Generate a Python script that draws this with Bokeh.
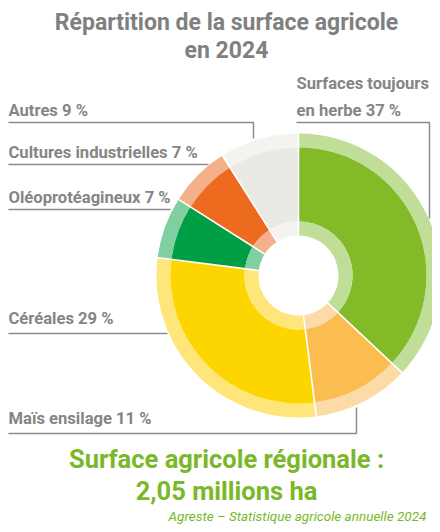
import math
from bokeh.plotting import figure
from bokeh.models import Range1d, ColumnDataSource
from bokeh.core.properties import value
from bokeh.embed import file_html
from bokeh.resources import INLINE

# ---- data ----
categories = ["Surfaces toujours\nen herbe", "Maïs ensilage", "Céréales",
              "Oléoprotéagineux", "Cultures industrielles", "Autres"]
shares = [37, 11, 29, 7, 7, 9]
main_colors = ["#82BA28", "#FBBC50", "#FDD500", "#009E45", "#EC6B1E", "#EAE9E4"]
light_colors = ["#C1DE98", "#FCDBA6", "#FEE67A", "#7FCFA0", "#F4B08A", "#F4F3EF"]
title_lines = ["Répartition de la surface agricole", "en 2024"]
footer_lines = ["Surface agricole régionale :", "2,05 millions ha"]
source_text = "Agreste – Statistique agricole annuelle 2024"

# ---- layout helpers (picture coords -> data coords) ----
W, H = 432, 524
def Y(py):
    return H - py

p = figure(width=W, height=H, x_range=Range1d(0, W), y_range=Range1d(0, H),
           output_backend="svg", toolbar_location=None, min_border=0)
p.axis.visible = False
p.grid.visible = False
p.outline_line_color = None
p.background_fill_color = "white"

cx, cy = 298, Y(275)
r_hole, r_in, r_main, r_out = 40, 54, 128, 142

total = float(sum(shares))
starts, ends = [], []
acc = 0.0
for s in shares:
    starts.append(math.pi / 2 - acc / total * 2 * math.pi)
    acc += s
    ends.append(math.pi / 2 - acc / total * 2 * math.pi)

src = ColumnDataSource(dict(start=starts, end=ends, main=main_colors, light=light_colors))
p.annular_wedge(x=cx, y=cy, inner_radius=r_main, outer_radius=r_out, start_angle="start",
                end_angle="end", direction="clock", fill_color="light", line_color=None, source=src)
p.annular_wedge(x=cx, y=cy, inner_radius=r_in, outer_radius=r_main, start_angle="start",
                end_angle="end", direction="clock", fill_color="main", line_color=None, source=src)
p.annular_wedge(x=cx, y=cy, inner_radius=r_hole, outer_radius=r_in, start_angle="start",
                end_angle="end", direction="clock", fill_color="light", line_color=None, source=src)

# white separators
sx0 = [cx + r_hole * math.cos(a) for a in starts]
sy0 = [cy + r_hole * math.sin(a) for a in starts]
sx1 = [cx + (r_out + 1) * math.cos(a) for a in starts]
sy1 = [cy + (r_out + 1) * math.sin(a) for a in starts]
p.segment(x0=sx0, y0=sy0, x1=sx1, y1=sy1, line_color="white", line_width=1.6)

# ---- labels ----
gray = "#858585"
labels = [f"{c} {v} %" for c, v in zip(categories, shares)]
lab_x = [296, 8, 8, 8, 8, 8]
lab_y = [Y(96.5), Y(418), Y(318), Y(197), Y(152), Y(110)]
p.text(x=lab_x, y=lab_y, text=labels, text_font=value("Roboto"), text_font_style="bold",
       text_font_size="16.6px", text_color=gray, text_align="left", text_baseline="middle",
       text_line_height=1.45)

# leader lines (polylines)
leaders_x = [[296, 429, 429], [8, 356, 356], [8, 167], [8, 170], [8, 208], [8, 253, 253]]
leaders_y = [[Y(122), Y(122), Y(218)], [Y(433), Y(433), Y(407)], [Y(333), Y(333)],
             [Y(209), Y(209)], [Y(164), Y(164)], [Y(122), Y(122), Y(138)]]
p.multi_line(xs=leaders_x, ys=leaders_y, line_color="#8C8C8C", line_width=1.5)

# ---- title ----
p.text(x=[226, 226], y=[Y(22), Y(50)], text=title_lines, text_font=value("Roboto"),
       text_font_style="bold", text_font_size="23px", text_color="#808080",
       text_align="center", text_baseline="middle")

# ---- footer ----
p.text(x=[226, 226], y=[Y(458), Y(490)], text=footer_lines, text_font=value("Roboto"),
       text_font_style="bold", text_font_size="25.5px", text_color="#7AB829",
       text_align="center", text_baseline="middle")
p.text(x=[168], y=[Y(515)], text=[source_text], text_font=value("Roboto"),
       text_font_style="italic", text_font_size="13.5px", text_color="#7AB829",
       text_align="left", text_baseline="middle")

open("out.html", "w").write(file_html(p, INLINE))
